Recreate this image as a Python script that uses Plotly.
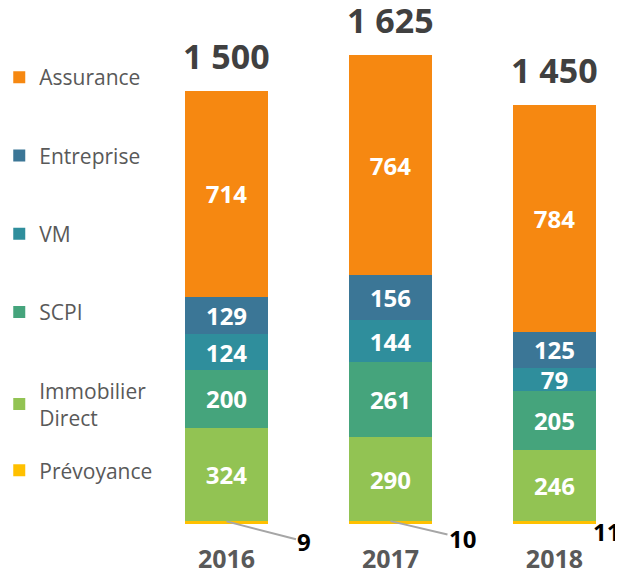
import plotly.graph_objects as go

# données
annees = ['2016', '2017', '2018']
prevoyance = [9, 10, 11]
immobilier = [324, 290, 246]
scpi = [200, 261, 205]
vm = [124, 144, 79]
entreprise = [129, 156, 125]
assurance = [714, 764, 784]
totaux = [1500, 1625, 1450]

series = [
    ('Prévoyance', prevoyance, '#FFC000'),
    ('Immobilier<br>Direct', immobilier, '#92C353'),
    ('SCPI', scpi, '#45A47C'),
    ('VM', vm, '#2F8E9C'),
    ('Entreprise', entreprise, '#3B7696'),
    ('Assurance', assurance, '#F68811'),
]

police = 'Open Sans'
x = list(range(len(annees)))

fig = go.Figure()
for i, (nom, valeurs, couleur) in enumerate(series):
    fig.add_trace(go.Bar(
        x=x, y=valeurs, name=nom, marker_color=couleur,
        marker_line_width=0, width=0.506,
        legendgroup='g%d' % i, legendrank=10 - i,
        legend='legend2' if nom == 'Prévoyance' else 'legend',
        text=None if nom == 'Prévoyance' else valeurs,
        textposition='inside', insidetextanchor='middle', textangle=0,
        textfont=dict(family=police, size=24, color='white', weight='bold'),
        hoverinfo='skip'
    ))

# totaux au-dessus des barres
for i, t in enumerate(totaux):
    fig.add_annotation(x=x[i], y=t, text='{:,}'.format(t).replace(',', ' '),
                       showarrow=False, yanchor='bottom', yshift=10,
                       font=dict(family=police, size=34, color='#404040', weight='bold'))

# étiquettes prévoyance
decalages = [(78, 20), (72, 17)]
for i, v in enumerate(prevoyance):
    if i < 2:
        fig.add_annotation(x=x[i], y=v, text=str(v), showarrow=True, arrowhead=0,
                           arrowwidth=2, arrowcolor='#A6A6A6',
                           ax=decalages[i][0], ay=decalages[i][1],
                           font=dict(family=police, size=24, color='black', weight='bold'))
    else:
        fig.add_annotation(x=x[i], y=v, text=str(v), showarrow=False,
                           xshift=52, yshift=-11,
                           font=dict(family=police, size=24, color='black', weight='bold'))

legende = dict(xanchor='left', yanchor='top', traceorder='grouped', tracegroupgap=48,
               font=dict(family=police, size=21, color='#595959'))

fig.update_layout(
    width=623, height=574,
    barmode='stack',
    paper_bgcolor='white', plot_bgcolor='white',
    margin=dict(l=172, r=8, t=0, b=58, autoexpand=False),
    uniformtext=dict(minsize=24, mode='show'),
    legend=dict(legende, x=-0.408, y=0.905),
    legend2=dict(legende, x=-0.408, y=0.143),
    xaxis=dict(range=[-0.2835, 2.418], tickvals=x, ticktext=annees,
               showgrid=False, zeroline=False, showline=False, ticks='',
               ticklabelstandoff=18,
               tickfont=dict(family=police, size=25, color='#595959', weight='bold')),
    yaxis=dict(range=[0, 1787], visible=False),
)

fig.write_html("out.html")
